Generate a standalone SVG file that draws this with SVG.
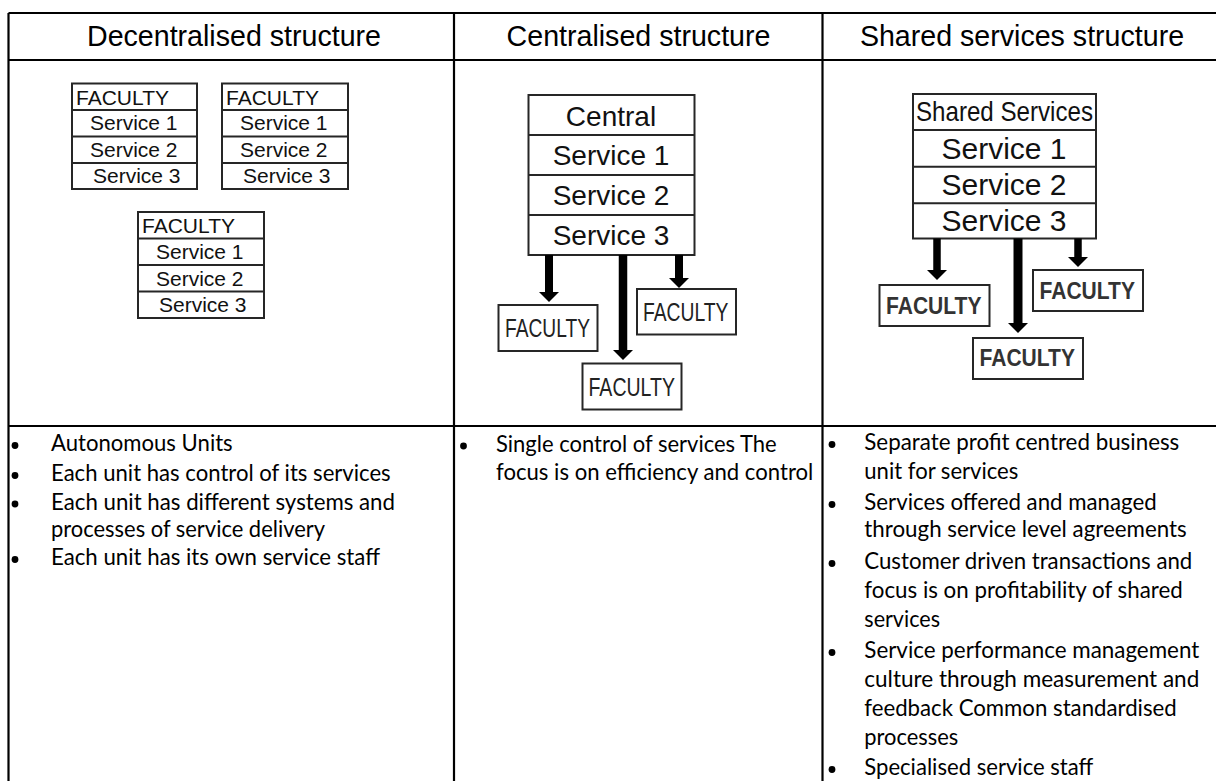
<svg xmlns="http://www.w3.org/2000/svg" width="1216" height="781" viewBox="0 0 1216 781">
<style>
.grid{stroke:#000;stroke-width:2.2;fill:none}
.box{fill:#fff;stroke:#262626;stroke-width:2}
.div{stroke:#262626;stroke-width:2}
.hdr{font-family:"Liberation Sans",Arial,sans-serif;font-size:28.6px;fill:#000;text-anchor:middle}
.sm{font-family:"Liberation Sans",Arial,sans-serif;font-size:21px;fill:#111}
.md{font-family:"Liberation Sans",Arial,sans-serif;font-size:28px;fill:#111;text-anchor:middle}
.lg{font-family:"Liberation Sans",Arial,sans-serif;font-size:30px;fill:#111;text-anchor:middle}
.fac{font-family:"Liberation Sans",Arial,sans-serif;font-size:25px;fill:#222}
.facb{font-family:"Liberation Sans",Arial,sans-serif;font-size:23.5px;font-weight:bold;fill:#333}
.bt{font-family:Lato,"Open Sans",sans-serif;font-size:22.5px;fill:#000}
.shaft{stroke:#000;fill:none}
</style>
<defs>
<marker id="head" markerUnits="userSpaceOnUse" markerWidth="10" markerHeight="20" refX="0" refY="10" orient="auto" viewBox="0 0 10 20">
<path d="M0,0 L10,10 L0,20 z" fill="#000"/>
</marker>
</defs>

<g id="table">
<path class="grid" d="M8.5,13 H1216 M8.5,13 V781 M454,13 V781 M822.5,13 V781 M8.5,60 H1216 M8.5,426 H1216"/>
<text class="hdr" x="234" y="46">Decentralised structure</text>
<text class="hdr" x="638.5" y="46">Centralised structure</text>
<text class="hdr" x="1022" y="46">Shared services structure</text>
</g>

<g id="dec-faculty-1">
<rect class="box" x="72" y="83.5" width="125" height="105.5"/>
<path class="div" d="M72,110 H197 M72,136.5 H197 M72,163 H197"/>
<text class="sm" x="76" y="104.5" font-size="21.5">FACULTY</text>
<text class="sm" x="90" y="130">Service 1</text>
<text class="sm" x="90" y="156.5">Service 2</text>
<text class="sm" x="93" y="182.5">Service 3</text>
</g>
<g id="dec-faculty-2">
<rect class="box" x="222" y="83.5" width="126" height="105.5"/>
<path class="div" d="M222,110 H348 M222,136.5 H348 M222,163 H348"/>
<text class="sm" x="226" y="104.5" font-size="21.5">FACULTY</text>
<text class="sm" x="240" y="130">Service 1</text>
<text class="sm" x="240" y="156.5">Service 2</text>
<text class="sm" x="243" y="182.5">Service 3</text>
</g>
<g id="dec-faculty-3">
<rect class="box" x="138" y="212" width="126" height="106"/>
<path class="div" d="M138,238.5 H264 M138,265 H264 M138,291.5 H264"/>
<text class="sm" x="142" y="233" font-size="21.5">FACULTY</text>
<text class="sm" x="156" y="259">Service 1</text>
<text class="sm" x="156" y="285.5">Service 2</text>
<text class="sm" x="159" y="312">Service 3</text>
</g>

<g id="central">
<rect class="box" x="528.5" y="95" width="166" height="160"/>
<path class="div" d="M528.5,135 H694.5 M528.5,175 H694.5 M528.5,215 H694.5"/>
<text class="md" x="611" y="126">Central</text>
<text class="md" x="611" y="165">Service 1</text>
<text class="md" x="611" y="205">Service 2</text>
<text class="md" x="611" y="245">Service 3</text>
</g>
<g id="central-faculty-left">
<rect class="box" x="498.5" y="305" width="99" height="46"/>
<text class="fac" x="505" y="337" textLength="85" lengthAdjust="spacingAndGlyphs">FACULTY</text>
</g>
<g id="central-faculty-right">
<rect class="box" x="637" y="289" width="99" height="45.5"/>
<text class="fac" x="643" y="321" textLength="85.5" lengthAdjust="spacingAndGlyphs">FACULTY</text>
</g>
<g id="central-faculty-bottom">
<rect class="box" x="582.5" y="363.5" width="99" height="46"/>
<text class="fac" x="588.5" y="395.5" textLength="86.5" lengthAdjust="spacingAndGlyphs">FACULTY</text>
</g>

<g id="shared">
<rect class="box" x="913" y="94" width="183" height="144.5"/>
<path class="div" d="M913,130 H1096 M913,166.7 H1096 M913,203.3 H1096"/>
<text class="md" x="1004.5" y="120.5" font-size="24" textLength="177" lengthAdjust="spacingAndGlyphs">Shared Services</text>
<text class="lg" x="1004" y="158.5">Service 1</text>
<text class="lg" x="1004" y="195">Service 2</text>
<text class="lg" x="1004" y="231">Service 3</text>
</g>
<g id="shared-faculty-left">
<rect class="box" x="879.5" y="285" width="110" height="41"/>
<text class="facb" x="886" y="313.5" textLength="95.5" lengthAdjust="spacingAndGlyphs">FACULTY</text>
</g>
<g id="shared-faculty-right">
<rect class="box" x="1033" y="270" width="110" height="41"/>
<text class="facb" x="1039.5" y="298.5" textLength="95.5" lengthAdjust="spacingAndGlyphs">FACULTY</text>
</g>
<g id="shared-faculty-bottom">
<rect class="box" x="973" y="338" width="110" height="41"/>
<text class="facb" x="979.5" y="366" textLength="95.5" lengthAdjust="spacingAndGlyphs">FACULTY</text>
</g>

<g id="connectors">
<line class="shaft" x1="549" y1="255" x2="549" y2="292" stroke-width="8" marker-end="url(#head)"/>
<line class="shaft" x1="623" y1="255" x2="623" y2="350" stroke-width="8.5" marker-end="url(#head)"/>
<line class="shaft" x1="679" y1="255" x2="679" y2="278" stroke-width="8" marker-end="url(#head)"/>
<line class="shaft" x1="937" y1="238.5" x2="937" y2="270" stroke-width="7.5" marker-end="url(#head)"/>
<line class="shaft" x1="1018" y1="238.5" x2="1018" y2="323" stroke-width="9" marker-end="url(#head)"/>
<line class="shaft" x1="1078" y1="238.5" x2="1078" y2="257" stroke-width="7.5" marker-end="url(#head)"/>
</g>

<g id="notes-decentralised">
<circle cx="15" cy="445.5" r="3.4"/>
<circle cx="15" cy="475.5" r="3.4"/>
<circle cx="15" cy="504" r="3.4"/>
<circle cx="15" cy="559.5" r="3.4"/>
<text class="bt" x="51" y="451" textLength="181.7" lengthAdjust="spacingAndGlyphs">Autonomous Units</text>
<text class="bt" x="51" y="481" textLength="339.7" lengthAdjust="spacingAndGlyphs">Each unit has control of its services</text>
<text class="bt" x="51" y="509.5" textLength="344" lengthAdjust="spacingAndGlyphs">Each unit has different systems and</text>
<text class="bt" x="51" y="536.5" textLength="274" lengthAdjust="spacingAndGlyphs">processes of service delivery</text>
<text class="bt" x="51" y="565" textLength="329" lengthAdjust="spacingAndGlyphs">Each unit has its own service staff</text>
</g>

<g id="notes-centralised">
<circle cx="463.5" cy="446" r="3.4"/>
<text class="bt" x="496" y="451.5" textLength="280.7" lengthAdjust="spacingAndGlyphs">Single control of services The</text>
<text class="bt" x="496" y="480" textLength="317.3" lengthAdjust="spacingAndGlyphs">focus is on efficiency and control</text>
</g>

<g id="notes-shared">
<circle cx="832" cy="444.5" r="3.4"/>
<circle cx="832" cy="504.5" r="3.4"/>
<circle cx="832" cy="563.5" r="3.4"/>
<circle cx="832" cy="652.5" r="3.4"/>
<circle cx="832" cy="769.5" r="3.4"/>
<text class="bt" x="864.3" y="450" textLength="315" lengthAdjust="spacingAndGlyphs">Separate profit centred business</text>
<text class="bt" x="864.3" y="478.5" textLength="154" lengthAdjust="spacingAndGlyphs">unit for services</text>
<text class="bt" x="864.3" y="510" textLength="292.4" lengthAdjust="spacingAndGlyphs">Services offered and managed</text>
<text class="bt" x="864.3" y="537" textLength="322.4" lengthAdjust="spacingAndGlyphs">through service level agreements</text>
<text class="bt" x="864.3" y="569" textLength="328" lengthAdjust="spacingAndGlyphs">Customer driven transactions and</text>
<text class="bt" x="864.3" y="598" textLength="318.4" lengthAdjust="spacingAndGlyphs">focus is on profitability of shared</text>
<text class="bt" x="864.3" y="627" textLength="75.7" lengthAdjust="spacingAndGlyphs">services</text>
<text class="bt" x="864.3" y="658" textLength="335" lengthAdjust="spacingAndGlyphs">Service performance management</text>
<text class="bt" x="864.3" y="687" textLength="335" lengthAdjust="spacingAndGlyphs">culture through measurement and</text>
<text class="bt" x="864.3" y="716" textLength="312.4" lengthAdjust="spacingAndGlyphs">feedback Common standardised</text>
<text class="bt" x="864.3" y="745" textLength="94" lengthAdjust="spacingAndGlyphs">processes</text>
<text class="bt" x="864.3" y="775" textLength="229" lengthAdjust="spacingAndGlyphs">Specialised service staff</text>
</g>
</svg>
